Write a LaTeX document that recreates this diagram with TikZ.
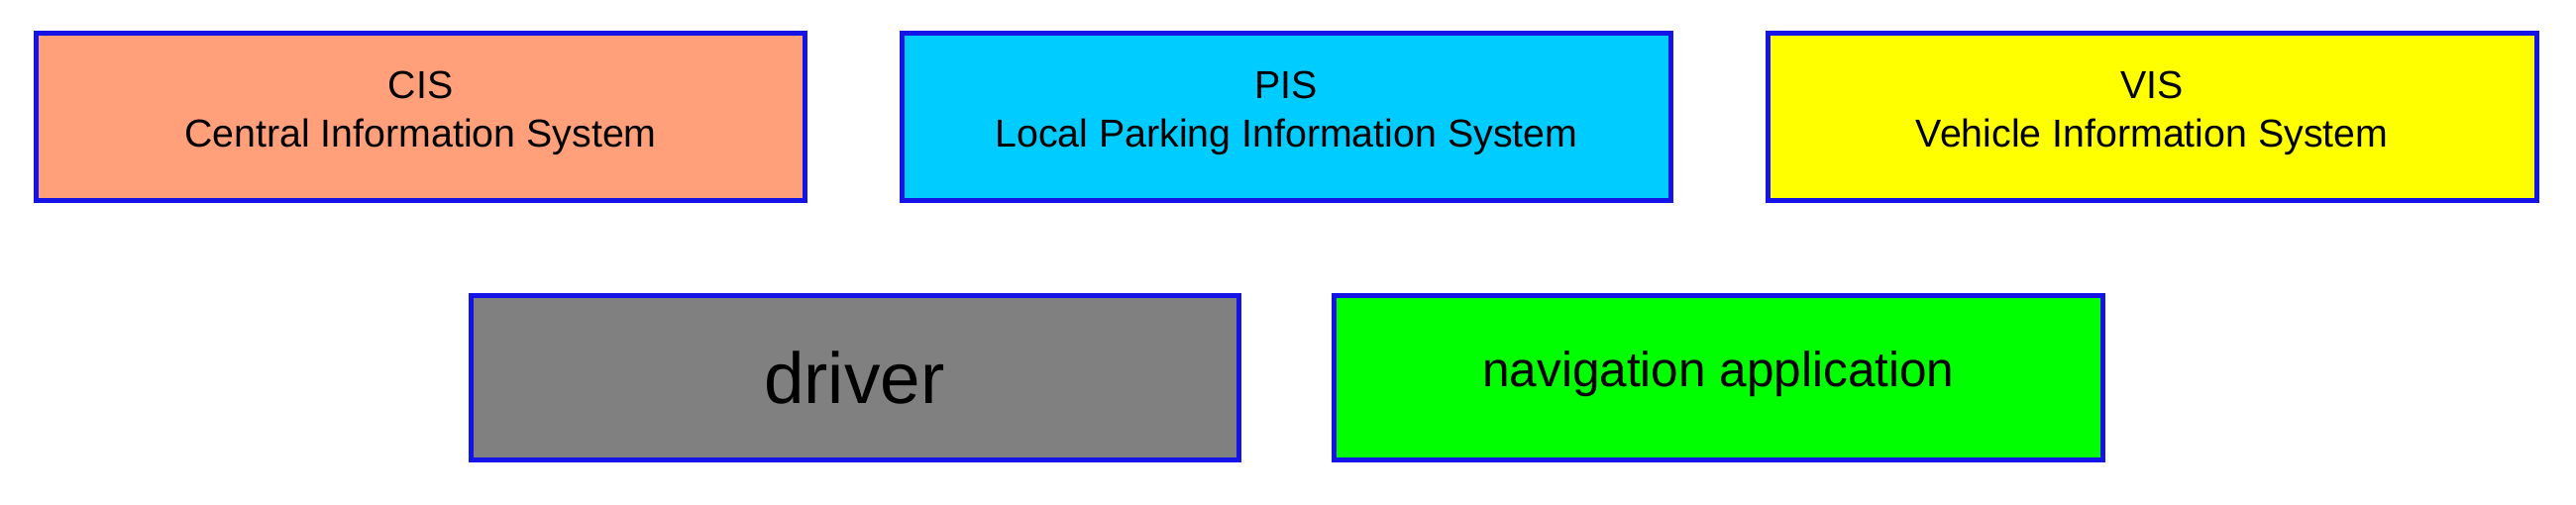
\documentclass[tikz,border=0pt]{standalone}
\usepackage{fontspec}
\setmainfont{Liberation Sans}
\definecolor{cisc}{RGB}{255,160,122}
\definecolor{pisc}{RGB}{0,204,255}
\definecolor{visc}{RGB}{255,255,0}
\definecolor{drvc}{RGB}{128,128,128}
\definecolor{navc}{RGB}{0,255,0}
\definecolor{bord}{RGB}{20,20,230}
\begin{document}
\begin{tikzpicture}[x=0.02cm,y=-0.02cm,
  box/.style={draw=bord,line width=1.7pt,align=center},
  lbl/.style={align=center,font=\fontsize{13.5}{17}\selectfont}]
\useasboundingbox (0,0) rectangle (1568,307);
\fill[white] (0,0) rectangle (1568,307);
\draw[box,fill=cisc] (22,20) rectangle (490,122);
\node[lbl] (cis) at (256,69) {CIS\\Central Information System};
\draw[box,fill=pisc] (549,20) rectangle (1017,122);
\node[lbl] (pis) at (783,69) {PIS\\Local Parking Information System};
\draw[box,fill=visc] (1076,20) rectangle (1544,122);
\node[lbl] (vis) at (1310,69) {VIS\\Vehicle Information System};
\draw[box,fill=drvc] (287,180) rectangle (754,280);
\node[font=\fontsize{25}{30}\selectfont] (drv) at (520,230) {driver};
\draw[box,fill=navc] (812,180) rectangle (1280,280);
\node[font=\fontsize{17}{21}\selectfont] (nav) at (1046,228) {navigation application};
\end{tikzpicture}
\end{document}
